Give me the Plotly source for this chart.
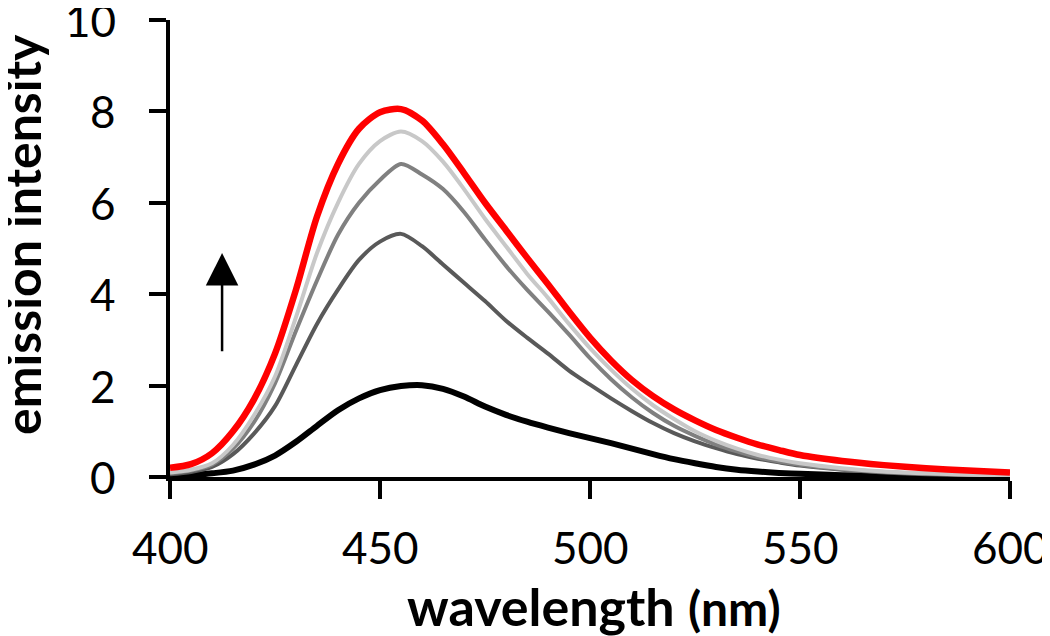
import plotly.graph_objects as go

wavelength = [400, 405, 410, 415, 420, 425, 430, 435, 440, 445, 450, 455, 460, 465, 470,
              475, 480, 485, 490, 495, 500, 505, 510, 515, 520, 525, 530, 535, 540, 545,
              550, 560, 570, 580, 590, 600]

black = [0.02, 0.04, 0.08, 0.14, 0.27, 0.47, 0.77, 1.12, 1.46, 1.72, 1.90, 1.99, 2.01, 1.93, 1.76,
         1.54, 1.36, 1.21, 1.08, 0.96, 0.85, 0.74, 0.62, 0.50, 0.39, 0.30, 0.22, 0.16, 0.12, 0.09,
         0.07, 0.04, 0.03, 0.02, 0.02, 0.01]

dark_gray = [0.06, 0.11, 0.22, 0.50, 0.95, 1.55, 2.45, 3.35, 4.10, 4.75, 5.15, 5.32, 5.05, 4.65, 4.25,
             3.85, 3.42, 3.05, 2.70, 2.33, 2.02, 1.72, 1.44, 1.18, 0.96, 0.78, 0.63, 0.50, 0.40, 0.32,
             0.25, 0.16, 0.10, 0.06, 0.04, 0.02]

mid_gray = [0.08, 0.14, 0.27, 0.62, 1.20, 2.05, 3.20, 4.30, 5.30, 6.00, 6.50, 6.85, 6.62, 6.30, 5.80,
            5.20, 4.62, 4.10, 3.62, 3.12, 2.60, 2.14, 1.74, 1.40, 1.12, 0.90, 0.71, 0.56, 0.43, 0.34,
            0.27, 0.17, 0.11, 0.07, 0.05, 0.03]

light_gray = [0.10, 0.16, 0.30, 0.70, 1.35, 2.20, 3.50, 4.90, 6.00, 6.85, 7.35, 7.56, 7.35, 6.90, 6.30,
              5.65, 5.05, 4.45, 3.92, 3.35, 2.82, 2.35, 1.93, 1.57, 1.27, 1.00, 0.79, 0.62, 0.48, 0.38,
              0.30, 0.19, 0.12, 0.08, 0.05, 0.03]

red = [0.20, 0.28, 0.52, 1.00, 1.70, 2.70, 4.10, 5.70, 6.85, 7.62, 7.98, 8.05, 7.80, 7.28, 6.65,
       6.00, 5.40, 4.80, 4.22, 3.62, 3.05, 2.55, 2.12, 1.77, 1.48, 1.24, 1.03, 0.86, 0.71, 0.59,
       0.48, 0.35, 0.26, 0.19, 0.14, 0.10]

series = [
    ("black", black, "#000000", 6),
    ("dark gray", dark_gray, "#595959", 4),
    ("mid gray", mid_gray, "#808080", 4),
    ("light gray", light_gray, "#C8C8C8", 4),
    ("red", red, "#FF0000", 6.5),
]

x_ticks = [400, 450, 500, 550, 600]
y_ticks = [0, 2, 4, 6, 8, 10]
x_title = "<b>wavelength</b> <b><span style='font-size:48px'>(nm)</span></b>"
y_title = "<b>emission intensity</b>"

FONT = "Lato, 'Open Sans', sans-serif"

fig = go.Figure()
for name, vals, color, w in series:
    fig.add_trace(go.Scatter(x=wavelength, y=vals, mode="lines", name=name,
                             line=dict(color=color, width=w, shape="spline", smoothing=0.8)))

# upward arrow
fig.add_annotation(x=412.4, y=4.9, ax=412.4, ay=2.72, xref="x", yref="y", axref="x", ayref="y",
                   showarrow=True, arrowhead=2, arrowsize=2.6, arrowwidth=2.5, arrowcolor="#000000",
                   text="")

# tick labels, placed on the axes' own scales
for v in y_ticks:
    fig.add_annotation(x=0, xref="paper", y=v, yref="y", text=str(v), showarrow=False,
                       xanchor="right", yanchor="middle", xshift=-52,
                       font=dict(size=44, family=FONT, color="#000000"))
for v in x_ticks:
    fig.add_annotation(x=v, xref="x", y=0, yref="paper", text=str(v), showarrow=False,
                       xanchor="center", yanchor="middle", yshift=-70,
                       font=dict(size=44, family=FONT, color="#000000"))

# axis titles
fig.add_annotation(x=0.5, xref="paper", y=0, yref="paper", text=x_title, showarrow=False,
                   xanchor="center", yanchor="middle", xshift=4, yshift=-129,
                   font=dict(size=52, family=FONT, color="#000000"))
fig.add_annotation(x=0, xref="paper", y=0.5295, yref="paper", text=y_title, showarrow=False,
                   textangle=-90, xanchor="center", yanchor="middle", xshift=-148,
                   font=dict(size=50, family=FONT, color="#000000"))

# The page body has an 8px margin, so the figure is sized and offset to compensate.
fig.update_layout(
    width=1042, height=628,
    margin=dict(l=162, r=40, t=12, b=159),
    paper_bgcolor="white", plot_bgcolor="white",
    showlegend=False,
    font=dict(family=FONT, color="#000000"),
    xaxis=dict(range=[400, 600], tickvals=x_ticks, showticklabels=False,
               automargin=False,
               showgrid=False, zeroline=False, showline=True, linecolor="#000000", linewidth=4,
               ticks="outside", ticklen=18, tickwidth=4, tickcolor="#000000"),
    yaxis=dict(range=[0, 10], tickvals=y_ticks, showticklabels=False,
               automargin=False,
               showgrid=False, zeroline=False, showline=True, linecolor="#000000", linewidth=4,
               ticks="outside", ticklen=17, tickwidth=4, tickcolor="#000000"),
)

fig.write_html("out.html")
